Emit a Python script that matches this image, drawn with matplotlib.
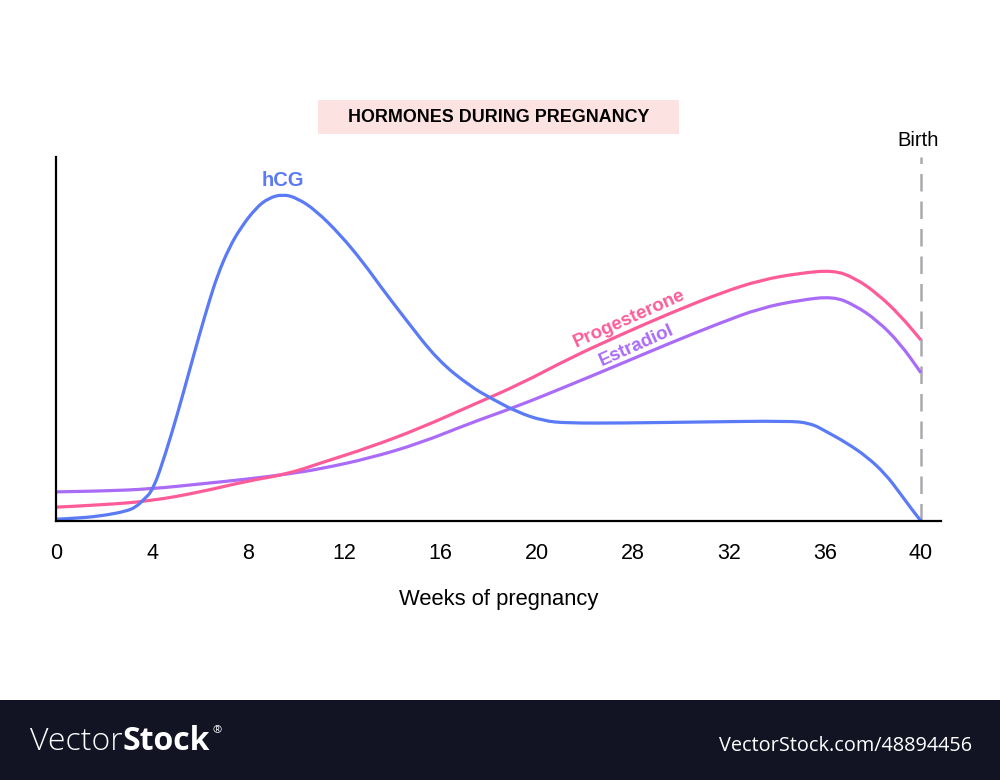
import matplotlib
matplotlib.use("Agg")
import matplotlib.pyplot as plt
from matplotlib.patches import Rectangle, PathPatch
from matplotlib.path import Path

# ---- data (x = slot index of the week tick, y = relative level 0-100) ----
week_labels = ["0", "4", "8", "12", "16", "20", "28", "32", "36", "40"]

hcg_x = [0.0, 0.26, 0.52, 0.73, 0.83, 0.91, 1.01, 1.14, 1.27, 1.38, 1.49, 1.59, 1.68,
         1.80, 1.92, 2.08, 2.21, 2.36, 2.51, 2.70, 2.96, 3.20, 3.38, 3.62, 3.97, 4.31,
         4.52, 4.80, 5.07, 5.32, 5.87, 6.70, 7.61, 7.85, 8.02, 8.23, 8.44, 8.63, 8.78,
         8.91, 9.0]
hcg_y = [0.5, 0.8, 1.6, 2.7, 3.8, 5.8, 8.5, 18.5, 30.0, 40.5, 51.0, 60.0, 67.5,
         75.0, 80.5, 86.0, 88.7, 89.8, 88.7, 85.4, 78.6, 70.9, 64.3, 56.0, 44.2, 37.0,
         33.8, 29.9, 27.5, 26.9, 26.9, 27.2, 27.5, 26.9, 24.5, 21.4, 17.6, 12.9, 7.7,
         3.0, 0.0]

prog_x = [0.0, 0.47, 0.99, 1.51, 1.99, 2.41, 2.75, 3.27, 3.79, 4.31, 4.83, 5.35, 5.87,
          6.39, 6.91, 7.33, 7.74, 8.09, 8.31, 8.54, 8.78, 9.0]
prog_y = [3.8, 4.4, 5.5, 8.0, 11.0, 12.9, 15.9, 20.3, 25.5, 31.6, 37.6, 44.8, 51.1,
          57.1, 62.6, 66.2, 68.1, 68.9, 66.8, 62.6, 56.6, 49.7]

estr_x = [0.0, 0.47, 0.99, 1.51, 1.99, 2.41, 2.75, 3.27, 3.79, 4.31, 4.80, 5.35, 5.87,
          6.39, 6.91, 7.33, 7.74, 8.09, 8.31, 8.54, 8.78, 9.0]
estr_y = [8.0, 8.2, 8.8, 10.2, 11.5, 12.9, 14.3, 17.3, 21.4, 26.9, 31.5, 37.4, 43.1,
          48.9, 54.4, 58.5, 60.7, 61.7, 59.3, 55.2, 48.9, 40.7]

BLUE = "#5a7af6"
PINK = "#fd5c98"
PURPLE = "#aa6cf7"

W, H = 1000, 780
fig = plt.figure(figsize=(10, 7.8), dpi=100)
fig.patch.set_facecolor("white")


def fx(px):
    return px / W


def fy(py):
    return 1 - py / H


def smooth_curve(ax, xs, ys, color, z):
    verts = [(xs[0], ys[0])]
    codes = [Path.MOVETO]
    for i in range(1, len(xs) - 1):
        mid = ((xs[i] + xs[i + 1]) / 2, (ys[i] + ys[i + 1]) / 2)
        verts += [(xs[i], ys[i]), mid]
        codes += [Path.CURVE3, Path.CURVE3]
    verts.append((xs[-1], ys[-1]))
    codes.append(Path.LINETO)
    patch = PathPatch(Path(verts, codes), facecolor="none", edgecolor=color,
                      lw=2.3, capstyle="butt", joinstyle="round", zorder=z,
                      clip_on=False, transform=ax.transData)
    ax.add_patch(patch)


ax_left, ax_right, ax_top, ax_bot = 56, 941, 157, 521
ax = fig.add_axes([fx(ax_left), fy(ax_bot), fx(ax_right - ax_left), (ax_bot - ax_top) / H])
ax.set_xlim(0, (ax_right - ax_left) / ((921 - 56) / 9))
ax.set_ylim(0, 100)

smooth_curve(ax, estr_x, estr_y, PURPLE, 3)
smooth_curve(ax, prog_x, prog_y, PINK, 3)
smooth_curve(ax, hcg_x, hcg_y, BLUE, 4)

ax.axvline(9, ymin=0, ymax=1, color="#a9a9b0", lw=1.8, dashes=(7, 4), zorder=2)

for s in ["top", "right"]:
    ax.spines[s].set_visible(False)
for s in ["left", "bottom"]:
    ax.spines[s].set_linewidth(1.6)
    ax.spines[s].set_color("black")
    ax.spines[s].set_zorder(5)

ax.set_xticks(range(len(week_labels)))
ax.set_xticklabels(week_labels, fontsize=15.5, fontfamily="Liberation Sans")
ax.tick_params(axis="x", length=0, pad=16)
ax.set_yticks([])

# annotations
fig.text(fx(283), fy(181), "hCG", color=BLUE, fontsize=14.5, fontweight="bold",
         fontfamily="Liberation Sans", ha="center", va="center")
fig.text(fx(629), fy(319), "Progesterone", color=PINK, fontsize=13.5, fontweight="bold",
         fontfamily="Liberation Sans", rotation=24, ha="center", va="center")
fig.text(fx(637), fy(346), "Estradiol", color=PURPLE, fontsize=13.5, fontweight="bold",
         fontfamily="Liberation Sans", rotation=24, ha="center", va="center")
fig.text(fx(918), fy(140), "Birth", color="black", fontsize=14.5,
         fontfamily="Liberation Sans", ha="center", va="center")

# title box
fig.patches.append(Rectangle((fx(318), fy(134)), fx(679 - 318), (134 - 100) / H,
                             transform=fig.transFigure, facecolor="#fde2e2",
                             edgecolor="none", zorder=0))
fig.text(fx(499), fy(117), "HORMONES DURING PREGNANCY", color="black", fontsize=12.9,
         fontweight="bold", fontfamily="Liberation Sans", ha="center", va="center")

fig.text(fx(499), fy(599), "Weeks of pregnancy", color="black", fontsize=15.8,
         fontfamily="Liberation Sans", ha="center", va="center")

# footer band
fig.patches.append(Rectangle((0, 0), 1, (780 - 700) / H, transform=fig.transFigure,
                             facecolor="#121424", edgecolor="none", zorder=0))
fig.canvas.draw()
renderer = fig.canvas.get_renderer()
t1 = fig.text(fx(30), fy(742), "Vector", color="white", fontsize=23, fontweight="light",
              fontfamily="Open Sans", ha="left", va="center")
bb = t1.get_window_extent(renderer)
x_stock = bb.x1 / W
t2 = fig.text(x_stock, fy(742), "Stock", color="white", fontsize=23, fontweight="bold",
              fontfamily="Open Sans", ha="left", va="center")
bb2 = t2.get_window_extent(renderer)
fig.text(bb2.x1 / W + 0.002, fy(731), "®", color="white", fontsize=8,
         fontfamily="Open Sans", ha="left", va="center")
fig.text(fx(972), fy(746), "VectorStock.com/48894456", color="white", fontsize=14.3,
         fontfamily="Open Sans", ha="right", va="center")

fig.savefig("out.png", dpi=100, facecolor="white")
